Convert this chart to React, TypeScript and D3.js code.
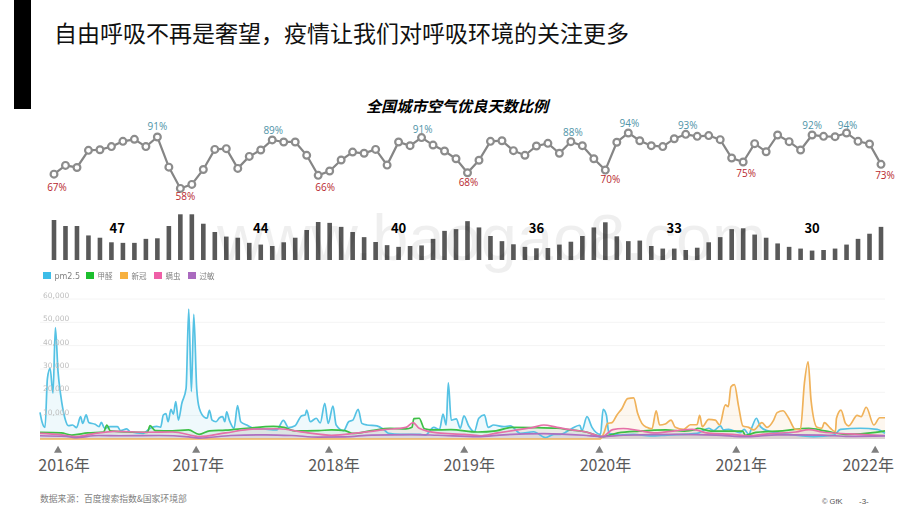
import { useEffect, useRef } from 'react';
import * as d3 from 'd3';

const W = 920;
const H = 518;
const FONT = '"Noto Sans CJK SC", "Noto Sans", sans-serif';

const title = '自由呼吸不再是奢望，疫情让我们对呼吸环境的关注更多';
const subTitle = '全国城市空气优良天数比例';

// monthly share of good-air days, Jan 2016 - Jan 2022
const goodAir = [
  67.1, 72.7, 71.4, 82.4, 82.8, 84.8, 88.2, 89.5, 84.8, 91, 71.6, 57.9,
  60.5, 70.1, 83, 83.5, 70.8, 78.5, 82.6, 89.1, 87.8, 87.8, 79.2, 66.3,
  69.1, 76.2, 81.3, 80.5, 83, 72.9, 87.8, 85.4, 90.6, 85.8, 82, 77,
  68, 76, 88.2, 88.6, 82.2, 79.2, 85.2, 86.9, 80.5, 88, 85.4, 77,
  69.7, 87.6, 93.6, 88.6, 85.4, 84.8, 89.9, 92.7, 91.4, 91.9, 89.3, 77.5,
  74.9, 86.7, 81.5, 92.3, 88, 82.6, 92.3, 91.4, 91.2, 93.6, 88.2, 86.5,
  73.4,
];
const pm25Monthly = [
  70, 59.5, 59.5, 43, 39, 31, 30, 30, 37, 38, 59.5, 80,
  80, 63.5, 49, 41, 39, 30, 27, 24.5, 31, 39, 52.5, 66.5,
  65, 58, 49, 40, 31.5, 26, 23, 24.5, 25.5, 37, 51, 54,
  68, 57, 42, 33, 27.5, 23, 20.5, 21, 27, 32, 42, 57,
  66, 41.5, 33, 34, 24.5, 20, 20, 17.5, 21.5, 31, 40, 54,
  55.5, 44.5, 39, 29, 23, 20, 16.5, 17.5, 20, 27, 37, 46,
  58,
];
const highIdx = [9, 19, 32, 45, 50, 55, 66, 69];
const lowIdx = [0, 11, 23, 36, 48, 60, 72];
const highOffset = [[0, -10], [1, -9], [1, -8], [2, -9], [1, -9], [2, -9], [0, -9], [1, -7]];
const lowOffset = [[3, 13], [5, 8], [7, 12], [1, 10], [5, 9], [3, 11], [4, 11]];
const annualPm = [47, 44, 40, 36, 33, 30];
const annualIdx = [5.5, 18, 30, 42, 54, 66];

// search index, [week, thousands]
const pm25 = [
  [0, 11.4], [0.75, 7.4], [1.9, 5], [2.8, 26], [3.8, 30.3], [4.9, 19.6], [5.8, 47.7], [6.8, 28.9], [7.8, 18.9], [9.4, 8.9],
  [10.7, 5.7], [12.3, 6], [13.8, 4.9], [15.3, 9.6], [16.1, 6.7], [17.4, 10.3], [18.4, 7.1], [20.8, 6.3], [22.3, 5.3], [23.1, 7.1],
  [24.4, 4.6], [26.4, 5.3], [29.2, 5.3], [30.4, 3.6], [32.7, 4.3], [34, 3.1], [39, 2.4], [41.5, 4.6], [44, 5.4], [45.5, 5.1],
  [46.5, 10.3], [47.5, 10.9], [48.3, 7.4], [49.4, 12.7], [50.3, 10.6], [51.2, 16], [52.2, 8.1], [53.5, 15.3], [55.1, 21.7], [56.1, 55.7],
  [57.1, 20.3], [58, 53.4], [59.1, 21.7], [60.1, 13.1], [62.3, 9.1], [63, 8.9], [63.9, 12.3], [64.9, 8.1], [66.4, 7.4], [67.7, 9.1],
  [68.9, 9.6], [69.7, 7.4], [70.4, 11.6], [71.4, 8.1], [73.2, 4.6], [74.5, 14.3], [75.7, 7.4], [78, 6], [80.5, 4.6], [84.3, 4.3],
  [89.3, 3.9], [91.8, 8], [93.7, 4.9], [96.2, 5.7], [98.7, 10], [100, 10.3], [100.6, 12.4], [101.9, 7.4], [104.2, 8.9], [105.7, 6.9],
  [107.4, 15.3], [108.7, 6.7], [110.5, 14.1], [111.7, 6], [114.5, 3.6], [116.4, 7.4], [118, 8.1], [120, 12.7], [121.4, 6.7], [123.3, 6],
  [127.1, 5.6], [129.6, 4.1], [131.5, 2.4], [135.9, 2], [143.4, 2], [145.3, 1.6], [148.5, 5], [150.7, 4.1], [152, 10.7], [153.2, 6],
  [154, 24.1], [155.1, 8.1], [157, 8.6], [158.5, 4.6], [159.9, 9.9], [161.7, 5.6], [163.8, 3.1], [165.5, 8.9], [167.6, 10.3], [169, 5],
  [171.1, 6], [174.9, 5.3], [177.4, 5.6], [181.2, 2.4], [186.2, 3.1], [190.6, 0.6], [193.8, 2], [196.3, 2], [200, 4.1], [203.6, 5.9],
  [204.4, 3.6], [206.3, 9.6], [208.2, 5], [211.4, 2], [212.4, 12.7], [213.6, 10.3], [214.6, 2.4], [218.8, 1.7], [223.9, 2], [230.2, 1.3],
  [236.5, 1.7], [247.8, 2.4], [252.2, 4.6], [254.1, 3.6], [256.6, 5.6], [257.8, 3.9], [259.7, 4.1], [264.1, 2.7], [265.6, 4.1], [267.3, 2],
  [268.5, 5], [270.2, 8.9], [271.7, 5.3], [274.2, 3.6], [281.7, 2.1], [291.8, 1], [299.4, 1.7], [301.9, 4.1], [309.4, 4.6], [315.7, 4.1],
  [318.7, 2.4],
];
const covid = [
  [0, 0], [211.3, 0], [212.6, 2.4], [214.1, 6.7], [215.7, 7], [217.6, 10.3], [219.5, 13.1], [221.6, 17.3], [223.9, 17.6], [225.4, 11],
  [227, 6.7], [228.9, 5], [230.8, 4.4], [232.4, 12.1], [233.7, 6], [235.8, 6.4], [238, 8.1], [239.6, 5], [242.7, 4.1], [245.3, 6.1],
  [247.8, 6.1], [248.8, 10.1], [249.8, 5.3], [252.2, 8.4], [254.7, 8.1], [256.3, 6], [258.5, 14.6], [259.6, 13.9], [260.6, 22.4], [261.9, 23.3],
  [263.5, 13.9], [265.1, 5.6], [267.3, 5], [269.2, 3.9], [272.3, 7], [274.2, 5], [276.7, 8.1], [278, 11.3], [280.2, 12.1], [282.4, 8.9],
  [284.9, 4.1], [286.8, 4.1], [288.3, 23.9], [289.7, 33.1], [290.8, 16.7], [293.1, 5], [294.9, 4.6], [295.8, 7], [298.1, 4.6], [300, 3.1],
  [300.4, 8.9], [302.1, 12.4], [303.8, 6.7], [305, 5.6], [308.2, 10.1], [309.7, 9.6], [311.6, 13.6], [314.5, 6], [316.7, 9.1], [318.7, 9.1],
];
const formaldehyde = [
  [0, 2.8], [8, 2.6], [12, 1.7], [18, 2.6], [24, 3], [25.2, 6], [26.5, 3.5], [33, 3], [40.5, 2.8], [41.5, 5.7],
  [43.5, 3.6], [50, 3.5], [56, 3.9], [60, 2], [64, 3.5], [70, 3.8], [78, 4.6], [88, 5.4], [92, 5], [96, 3.5],
  [105, 3.6], [110, 3.9], [115, 3.6], [118, 2.4], [125, 3.6], [132, 4.6], [138, 4.3], [140.3, 5], [141, 8.7], [143, 8.9],
  [145, 4.4], [148, 3.9], [155, 4], [165, 3], [172, 3.5], [178, 5], [186, 4.9], [195, 4.6], [200, 3.9], [206, 3],
  [212, 1], [218, 2.6], [226, 3.4], [236, 3.9], [243, 3.4], [247, 4], [248, 4.6], [253, 3.4], [265, 3.4], [266, 1.6],
  [270, 2.8], [280, 3.5], [290, 4.6], [296, 3.5], [304, 2], [315, 2.8], [318.7, 3.5],
];
const mites = [
  [0, 2.4], [8, 1.8], [13, 1], [20, 2.2], [28, 3.3], [40, 2.9], [50, 3], [58, 1.4], [60, 1], [70, 2.6],
  [80, 4.2], [90, 4.4], [100, 2.8], [110, 1.6], [120, 2.6], [130, 4], [138, 5], [140.7, 7], [143, 4.6], [150, 2.6],
  [160, 2], [166, 1.4], [172, 2.5], [180, 3.9], [186, 5], [190, 6], [195, 5], [200, 4], [206, 3], [212, 1],
  [216, 4], [220, 4.5], [226, 3.6], [232, 2.6], [240, 3.6], [246, 4.1], [252, 2.5], [262, 1.9], [267, 1.3], [275, 2.3],
  [285, 3], [290, 4], [295, 3], [305, 2.2], [318.7, 1.5],
];
const allergy = [
  [0, 1.4], [10, 1.1], [13, 0.6], [22, 1.5], [30, 1.4], [45, 1.5], [56, 0.9], [60, 0.4], [72, 1.5], [85, 1.8],
  [95, 1.5], [105, 0.8], [115, 0.9], [125, 1.7], [140, 1.9], [150, 1.6], [165, 1], [175, 1.8], [190, 2.3], [205, 1.6],
  [212, 1], [220, 1.6], [240, 2], [255, 1.7], [267, 1], [278, 1.8], [295, 1.7], [305, 1.1], [318.7, 1.3],
];
const seriesNames = ['pm2.5', '甲醛', '新冠', '螨虫', '过敏'];
const seriesValues = [pm25, formaldehyde, covid, mites, allergy];
const seriesColors = ['#55c2e4', '#3dbf45', '#f0b25a', '#e56fa8', '#ae6fc0'];
const swatchColors = ['#3cbde8', '#1fbf2d', '#f7b13f', '#ef5fa7', '#aa6bbf'];
const legendX = [43, 86, 120, 154, 188];
const yTicks = [10, 20, 30, 40, 50, 60];
const years = ['2016年', '2017年', '2018年', '2019年', '2020年', '2021年', '2022年'];
const yearWeeks = [6.8, 58.9, 109, 160, 211, 262.6, 315];
const yearLabelShift = [6, 2, 5, 5, 6, 5, -7];

export default function App() {
  const svgRef = useRef<SVGSVGElement>(null);

  useEffect(() => {
    if (!svgRef.current) return;
    const svg = d3.select(svgRef.current);
    svg.selectAll('*').remove();

    const defs = svg.append('defs');
    defs.append('filter').attr('id', 'soft').append('feGaussianBlur').attr('stdDeviation', 0.4);

    svg.append('rect').attr('width', W).attr('height', H).attr('fill', '#fff');
    svg.append('rect').attr('x', 14).attr('y', 0).attr('width', 17).attr('height', 109).attr('fill', '#000');

    svg.append('text').attr('x', 54).attr('y', 42).attr('font-size', 23).attr('fill', '#111').text(title);
    svg.append('text').attr('x', 457).attr('y', 112).attr('text-anchor', 'middle')
      .attr('font-size', 15.2).attr('font-weight', 700).attr('font-style', 'italic').attr('fill', '#000').text(subTitle);

    // Monthly share line + bars share the same x
    const xMonth = d3.scaleLinear([0, 72], [54, 881]);
    const yGood = d3.scaleLinear([50, 100], [200.7, 123]);
    const yPm = d3.scaleLinear([0, 80], [260, 214.3]);

    svg.append('g').selectAll('rect').data(pm25Monthly).join('rect')
      .attr('x', (_, i) => xMonth(i) - 2.3).attr('width', 4.6)
      .attr('y', d => yPm(d)).attr('height', d => yPm(0) - yPm(d)).attr('fill', '#595959');

    svg.append('g').selectAll('text').data(annualPm).join('text')
      .attr('x', (_, i) => xMonth(annualIdx[i])).attr('y', 233).attr('text-anchor', 'middle')
      .attr('font-size', 13).attr('font-weight', 700).attr('fill', '#000').text(d => d);

    svg.append('text').attr('x', 217).attr('y', 260)
      .attr('font-family', '"Liberation Sans", sans-serif').attr('font-size', 65)
      .attr('fill', '#000').attr('opacity', 0.06).text('www.baogao8.com');

    const line = d3.line<number>().x((_, i) => xMonth(i)).y(d => yGood(d));
    svg.append('path').attr('d', line(goodAir)).attr('fill', 'none').attr('stroke', '#858585').attr('stroke-width', 2.2);
    svg.append('g').selectAll('circle').data(goodAir).join('circle')
      .attr('cx', (_, i) => xMonth(i)).attr('cy', d => yGood(d)).attr('r', 3.4)
      .attr('fill', '#fff').attr('stroke', '#8c8c8c').attr('stroke-width', 2.2);

    const pctLabels = (idx: number[], off: number[][], color: string) => {
      svg.append('g').selectAll('text').data(idx).join('text')
        .attr('x', (d, i) => xMonth(d) + off[i][0]).attr('y', (d, i) => yGood(goodAir[d]) + off[i][1])
        .attr('dy', '0.35em').attr('text-anchor', 'middle').attr('font-size', 10)
        .attr('font-family', '"Open Sans", sans-serif').attr('fill', color)
        .text(d => `${Math.round(goodAir[d])}%`);
    };
    pctLabels(highIdx, highOffset, '#4f94a8');
    pctLabels(lowIdx, lowOffset, '#b8282e');

    // Search index chart
    const x = d3.scaleLinear([0, 318.7], [40, 885]);
    const y = d3.scaleLinear([0, 60], [439, 299]);
    const chart = svg.append('g').attr('filter', 'url(#soft)');

    chart.append('g').selectAll('line').data(yTicks).join('line')
      .attr('x1', x(0)).attr('x2', x(318.7)).attr('y1', d => y(d)).attr('y2', d => y(d))
      .attr('stroke', '#f4f4f4');

    const area = d3.area<number[]>().x(d => x(d[0])).y0(y(0)).y1(d => y(d[1])).curve(d3.curveMonotoneX);
    const path = d3.line<number[]>().x(d => x(d[0])).y(d => y(d[1])).curve(d3.curveMonotoneX);
    seriesValues.forEach((s, i) => {
      chart.append('path').attr('d', area(s)).attr('fill', seriesColors[i]).attr('opacity', 0.1);
    });
    seriesValues.forEach((s, i) => {
      chart.append('path').attr('d', path(s)).attr('fill', 'none').attr('stroke', seriesColors[i]).attr('stroke-width', 1.7);
    });

    chart.append('g').selectAll('text').data(yTicks).join('text')
      .attr('x', 43).attr('y', d => y(d) - 1).attr('font-size', 7.5)
      .attr('font-family', '"DejaVu Sans", sans-serif').attr('fill', '#bdbdbd')
      .text(d => d3.format(',')(d * 1000));

    const legend = chart.append('g');
    seriesNames.forEach((name, i) => {
      legend.append('rect').attr('x', legendX[i]).attr('y', 272).attr('width', 8).attr('height', 7).attr('fill', swatchColors[i]);
      legend.append('text').attr('x', legendX[i] + 11.5).attr('y', 278.5).attr('font-size', i === 0 ? 8 : 7.5)
        .attr('font-family', i === 0 ? '"DejaVu Sans", sans-serif' : FONT).attr('fill', '#808080').text(name);
    });

    // Year markers
    const tri = d3.symbol(d3.symbolTriangle, 28);
    svg.append('g').selectAll('path').data(yearWeeks).join('path')
      .attr('d', tri()).attr('transform', d => `translate(${x(d)},450.5)`).attr('fill', '#7f7f7f');
    svg.append('g').selectAll('text').data(years).join('text')
      .attr('x', (_, i) => x(yearWeeks[i]) + yearLabelShift[i]).attr('y', 471).attr('text-anchor', 'middle')
      .attr('font-size', 16).attr('fill', '#595959').text(d => d);

    svg.append('text').attr('x', 40).attr('y', 502).attr('font-size', 8.8).attr('fill', '#7f7f7f').text('数据来源：百度搜索指数&国家环境部');
    svg.append('text').attr('x', 822).attr('y', 504).attr('font-size', 7.5).attr('font-family', '"Liberation Sans", sans-serif').attr('fill', '#555').text('© GfK');
    svg.append('text').attr('x', 859).attr('y', 504).attr('font-size', 8).attr('font-family', '"Liberation Sans", sans-serif').attr('fill', '#555').text('-3-');
  }, []);

  return (
    <svg ref={svgRef} width={W} height={H} viewBox={`0 0 ${W} ${H}`}
      style={{ position: 'absolute', left: 0, top: 0, fontFamily: FONT }} />
  );
}
